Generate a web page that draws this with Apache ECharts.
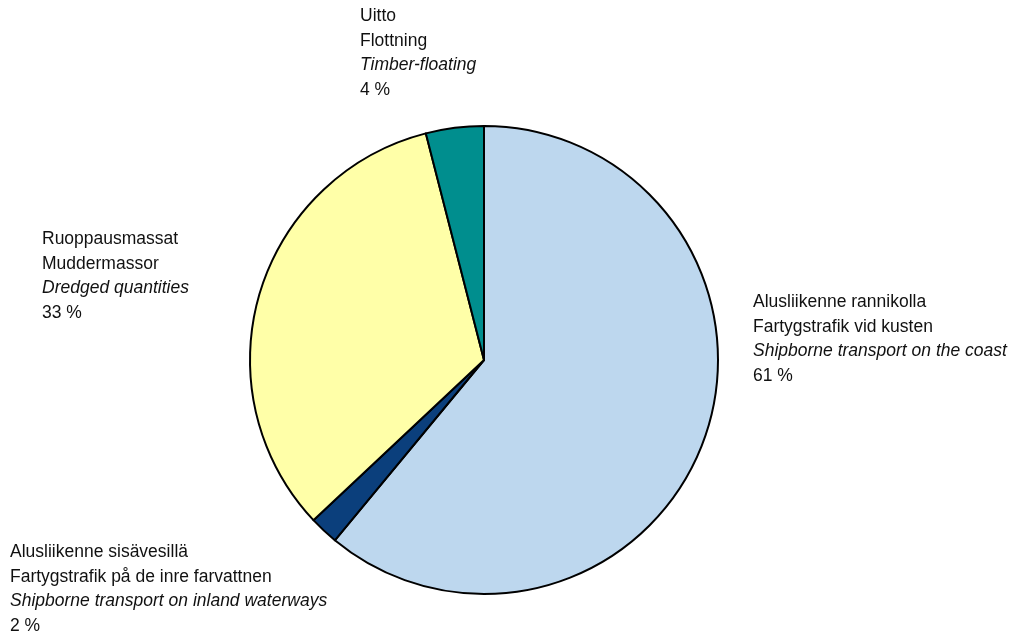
<!DOCTYPE html>
<html>
<head>
<meta charset="utf-8">
<script src="https://cdn.jsdelivr.net/npm/echarts@6/dist/echarts.min.js"></script>
<style>
  html, body { margin: 0; padding: 0; background: #fff; }
  #chart { width: 1014px; height: 639px; }
</style>
</head>
<body>
<div id="chart"></div>
<script>
const finnish = ["Alusliikenne rannikolla", "Alusliikenne sisävesillä", "Ruoppausmassat", "Uitto"]
const swedish = ["Fartygstrafik vid kusten", "Fartygstrafik på de inre farvattnen", "Muddermassor", "Flottning"]
const english = ["Shipborne transport on the coast", "Shipborne transport on inland waterways", "Dredged quantities", "Timber-floating"]
const shares = [61, 2, 33, 4]
const colors = ["#bdd7ee", "#0b3f7c", "#ffffa8", "#008e8e"]

// where each label block starts (top-left)
const labelSpots = [[753, 290], [10, 540], [42, 227], [360, 4]]

const chart = echarts.init(document.getElementById("chart"))
const font = "'Liberation Sans Narrow', 'Arial Narrow', 'Liberation Sans', Arial, sans-serif"

chart.setOption({
  backgroundColor: "#fff",
  animation: false,
  series: [{
    type: "pie",
    center: [484, 360],
    radius: 234,
    startAngle: 90,
    clockwise: true,
    data: shares.map((v, i) => ({
      value: v,
      name: finnish[i],
      itemStyle: { color: colors[i] },
    })),
    itemStyle: { borderColor: "#000", borderWidth: 2 },
    emphasis: { disabled: true },
    labelLine: { show: false },
    label: {
      show: true,
      position: "outside",
      overflow: "none",
      formatter: (p) => {
        const i = p.dataIndex
        return `{n|${finnish[i]}}\n{n|${swedish[i]}}\n{e|${english[i]}}\n{n|${shares[i]} %}`
      },
      rich: {
        n: { fontFamily: font, fontSize: 17.5, color: "#111", lineHeight: 24.5 },
        e: { fontFamily: font, fontSize: 17.5, fontStyle: "italic", color: "#111", lineHeight: 24.5 },
      },
    },
    labelLayout: (p) => ({
      x: labelSpots[p.dataIndex][0],
      y: labelSpots[p.dataIndex][1],
      align: "left",
      verticalAlign: "top",
    }),
  }],
})
</script>
</body>
</html>
